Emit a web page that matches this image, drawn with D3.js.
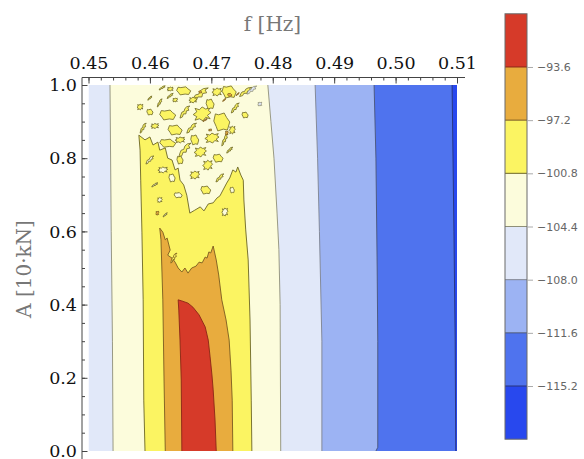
<!DOCTYPE html>
<html>
<head>
<meta charset="utf-8">
<script src="https://cdn.jsdelivr.net/npm/d3@7"></script>
<style>
  body { margin: 0; background: #fff; }
  svg { display: block; }
</style>
</head>
<body>
<svg id="chart" width="584" height="459"></svg>
<script>
// ---------------- data ----------------
const fTicks = [0.45, 0.46, 0.47, 0.48, 0.49, 0.50, 0.51];
const aTicks = [0, 0.2, 0.4, 0.6, 0.8, 1.0];
const levels = [-115.2, -111.6, -108.0, -104.4, -100.8, -97.2, -93.6];
const colorRange = [-118.8, -90.0];

// contour edges, [f, A] from bottom to top
const paleYellowLeftEdge = [[0.4540, -0.02], [0.4540, 0], [0.4539, 0.3], [0.4537, 0.6], [0.4535, 1], [0.4535, 1.02]];
const paleYellowRightEdge = [[0.4813, -0.02], [0.4813, 0], [0.4812, 0.4], [0.4810, 0.55], [0.4807, 0.65],
  [0.4802, 0.8], [0.4797, 0.9], [0.4792, 1], [0.4791, 1.02]];
const midBlueEdge = [[0.4880, -0.02], [0.4880, 0], [0.4880, 0.3], [0.4876, 0.6], [0.4873, 0.8], [0.4869, 1], [0.4869, 1.02]];
const blueEdge = [[0.4962, -0.02], [0.4971, 0.01], [0.4971, 0.3], [0.4970, 0.5], [0.4968, 0.8], [0.4965, 1], [0.4965, 1.02]];
const deepBlueEdge = [[0.5098, -0.02], [0.5098, 0], [0.5097, 0.3], [0.5095, 0.6], [0.5092, 1], [0.5092, 1.02]];

// closed contour regions, [f, A]
const yellowRegion = [
  [0.4592, -0.02], [0.4592, 0], [0.4590, 0.139], [0.4589, 0.413], [0.4587, 0.598], [0.4585, 0.740],
  [0.4584, 0.822], [0.4582, 0.863], [0.4592, 0.850], [0.4600, 0.858], [0.4605, 0.836], [0.4613, 0.844],
  [0.4616, 0.822], [0.4625, 0.828], [0.4629, 0.800], [0.4636, 0.795], [0.4641, 0.768], [0.4646, 0.773],
  [0.4649, 0.740], [0.4655, 0.727], [0.4660, 0.699], [0.4665, 0.650], [0.4673, 0.658], [0.4682, 0.667],
  [0.4688, 0.656], [0.4695, 0.675], [0.4703, 0.678], [0.4709, 0.691], [0.4714, 0.697], [0.4719, 0.713],
  [0.4725, 0.732], [0.4730, 0.746], [0.4735, 0.768], [0.4740, 0.762], [0.4743, 0.776], [0.4748, 0.754],
  [0.4752, 0.740], [0.4753, 0.686], [0.4756, 0.604], [0.4760, 0.522], [0.4763, 0.358], [0.4765, 0.139],
  [0.4766, 0], [0.4766, -0.02]
];
const orangeRegion = [
  [0.4625, -0.02], [0.4625, 0], [0.4623, 0.194], [0.4621, 0.413], [0.4618, 0.577], [0.4616, 0.609],
  [0.4621, 0.598], [0.4625, 0.577], [0.4628, 0.582], [0.4633, 0.549], [0.4629, 0.535], [0.4636, 0.527],
  [0.4641, 0.516], [0.4646, 0.500], [0.4652, 0.489], [0.4657, 0.500], [0.4662, 0.486], [0.4668, 0.500],
  [0.4675, 0.505], [0.4680, 0.516], [0.4685, 0.514], [0.4690, 0.530], [0.4693, 0.527], [0.4696, 0.544],
  [0.4699, 0.541], [0.4703, 0.560], [0.4708, 0.522], [0.4712, 0.481], [0.4717, 0.413], [0.4724, 0.358],
  [0.4729, 0.303], [0.4732, 0.221], [0.4734, 0.139], [0.4735, 0], [0.4735, -0.02]
];
const redRegion = [
  [0.4652, -0.02], [0.4652, 0], [0.4651, 0.194], [0.4649, 0.303], [0.4647, 0.385], [0.4646, 0.413],
  [0.4652, 0.410], [0.4662, 0.404], [0.4670, 0.393], [0.4680, 0.372], [0.4690, 0.339], [0.4695, 0.303],
  [0.4698, 0.257], [0.4701, 0.208], [0.4703, 0.167], [0.4706, 0.085], [0.4708, 0], [0.4708, -0.02]
];

// small islands: [f, A, width in f, height in A]
const yellowSpots = [
  [0.4620, 0.992, 0.0010, 0.011], [0.4633, 0.989, 0.0010, 0.011], [0.4655, 0.984, 0.0023, 0.022],
  [0.4682, 0.973, 0.0026, 0.038], [0.4709, 0.981, 0.0016, 0.022], [0.4729, 0.981, 0.0023, 0.033],
  [0.4756, 0.981, 0.0020, 0.025], [0.4584, 0.940, 0.0010, 0.016], [0.4629, 0.918, 0.0026, 0.027],
  [0.4657, 0.926, 0.0016, 0.033], [0.4685, 0.921, 0.0029, 0.038], [0.4717, 0.899, 0.0026, 0.049],
  [0.4589, 0.882, 0.0010, 0.027], [0.4608, 0.888, 0.0013, 0.014], [0.4641, 0.877, 0.0023, 0.027],
  [0.4668, 0.882, 0.0016, 0.027], [0.4701, 0.855, 0.0023, 0.027], [0.4629, 0.841, 0.0026, 0.022],
  [0.4657, 0.822, 0.0020, 0.038], [0.4682, 0.817, 0.0020, 0.027], [0.4711, 0.800, 0.0016, 0.022],
  [0.4730, 0.822, 0.0010, 0.016], [0.4673, 0.754, 0.0016, 0.022], [0.4691, 0.713, 0.0016, 0.022],
  [0.4600, 0.964, 0.0007, 0.011], [0.4641, 0.959, 0.0008, 0.011], [0.4600, 0.926, 0.0010, 0.016],
  [0.4616, 0.951, 0.0008, 0.022], [0.4670, 0.959, 0.0013, 0.016], [0.4698, 0.948, 0.0013, 0.027],
  [0.4739, 0.937, 0.0013, 0.027], [0.4649, 0.850, 0.0016, 0.016], [0.4673, 0.850, 0.0013, 0.027],
  [0.4722, 0.850, 0.0010, 0.033], [0.4694, 0.781, 0.0016, 0.027], [0.4649, 0.795, 0.0010, 0.022],
  [0.4714, 0.746, 0.0013, 0.022], [0.4734, 0.877, 0.0010, 0.022], [0.4755, 0.918, 0.0010, 0.016],
  [0.4633, 0.970, 0.0010, 0.014]
];
const paleYellowSpots = [
  [0.4600, 0.795, 0.0013, 0.022], [0.4621, 0.768, 0.0016, 0.016], [0.4636, 0.746, 0.0010, 0.022],
  [0.4608, 0.727, 0.0010, 0.011], [0.4616, 0.686, 0.0008, 0.014], [0.4646, 0.699, 0.0013, 0.014],
  [0.4625, 0.645, 0.0007, 0.011], [0.4722, 0.653, 0.0010, 0.022], [0.4734, 0.713, 0.0007, 0.016]
];
const yellowInOrange = [[0.4639, 0.527, 0.0010, 0.027]];
const orangeSpots = [
  [0.4690, 0.904, 0.0007, 0.008], [0.4725, 0.869, 0.0005, 0.011], [0.4730, 0.973, 0.0007, 0.008],
  [0.4721, 0.959, 0.0005, 0.008], [0.4698, 0.877, 0.0005, 0.006], [0.4682, 0.981, 0.0005, 0.006],
  [0.4743, 0.975, 0.0005, 0.008], [0.4612, 0.650, 0.0005, 0.011]
];
const paleBlueSpots = [[0.4766, 0.986, 0.0016, 0.022], [0.4779, 0.948, 0.0007, 0.011]];

// ---------------- style ----------------
const bandColors = ['#2848ee', '#4f73ee', '#9cb3f3', '#e1e8f9', '#fcfcdc', '#fbf462', '#e8ac3e', '#d63a29'];
const lineColors = ['#26337a', '#4a5577', '#7d8290', '#8f8f78', '#6b6524', '#7a5a20', '#8a2616'];
const serif = 'DejaVu Serif';

const svg = d3.select('#chart');

const x = d3.scaleLinear().domain([0.45, 0.51]).range([88.5, 457]);
const y = d3.scaleLinear().domain([0, 1]).range([451, 85]);
const cb = d3.scaleLinear().domain(colorRange).range([439.2, 13.8]);

const path = d3.line().x(d => x(d[0])).y(d => y(d[1])).curve(d3.curveLinearClosed);

// ragged outlines for the noisy islands (unit box, +y = up)
const shapes = [
  [[1, 1], [0.6, 0.7], [0.8, 0.3], [0.3, 0.2], [0.2, -0.3], [-0.3, -0.3], [-0.5, -0.8], [-1, -1],
   [-0.8, -0.4], [-0.6, 0], [-0.2, 0.1], [0, 0.6], [0.4, 0.9]],
  [[1, 0.2], [0.7, 0.5], [0.9, 0.9], [0.4, 0.7], [0, 1], [-0.3, 0.6], [-0.8, 0.8], [-0.6, 0.3],
   [-1, -0.1], [-0.6, -0.4], [-0.8, -0.9], [-0.3, -0.7], [0.1, -1], [0.4, -0.5], [0.9, -0.7], [0.6, -0.2]],
  [[1, 0], [0.6, 0.5], [0.3, 1], [-0.4, 0.8], [-0.8, 0.9], [-1, 0.1], [-0.7, -0.5], [-0.5, -1],
   [0.2, -0.8], [0.7, -0.9]]
];
const spotPath = (d, i) => path(shapes[i % 3].map(p => [d[0] + p[0] * d[2] / 2, d[1] + p[1] * d[3] / 2]));

svg.append('clipPath').attr('id', 'plotClip')
  .append('rect').attr('x', 88.5).attr('y', 85).attr('width', 368.5).attr('height', 366);

const plot = svg.append('g').attr('clip-path', 'url(#plotClip)');

plot.append('rect')
  .attr('x', 88.5).attr('y', 85).attr('width', 368.5).attr('height', 366)
  .attr('fill', bandColors[3]);

function region(pts, fill, stroke) {
  plot.append('path').attr('d', path(pts))
    .attr('fill', fill).attr('stroke', stroke).attr('stroke-width', 0.9).attr('stroke-linejoin', 'round');
}
function spots(list, fill, stroke) {
  plot.append('g').selectAll('path').data(list).join('path')
    .attr('d', spotPath)
    .attr('fill', fill).attr('stroke', stroke).attr('stroke-width', 0.8).attr('stroke-linejoin', 'round');
}
const toRight = edge => edge.concat([[0.52, 1.02], [0.52, -0.02]]);

region(toRight(midBlueEdge), bandColors[2], lineColors[2]);
region(toRight(blueEdge), bandColors[1], lineColors[1]);
region(toRight(deepBlueEdge), bandColors[0], lineColors[0]);
region(paleYellowLeftEdge.concat(paleYellowRightEdge.slice().reverse()), bandColors[4], lineColors[3]);
region(yellowRegion, bandColors[5], lineColors[4]);
spots(paleYellowSpots, bandColors[4], lineColors[4]);
spots(yellowSpots, bandColors[5], lineColors[4]);
region(orangeRegion, bandColors[6], lineColors[5]);
spots(yellowInOrange, bandColors[5], lineColors[5]);
region(redRegion, bandColors[7], lineColors[6]);
spots(orangeSpots, bandColors[6], lineColors[5]);
spots(paleBlueSpots, bandColors[3], lineColors[3]);

// ---------------- axes ----------------
const axisColor = '#444';

const topAxis = svg.append('g').attr('transform', 'translate(0,77.5)');
topAxis.append('g')
  .call(d3.axisTop(x).ticks(30).tickSize(-3).tickFormat(''))
  .call(g => g.select('.domain').remove());
topAxis.append('g')
  .call(d3.axisTop(x).tickValues(fTicks).tickFormat(d3.format('.2f')).tickSize(-6).tickPadding(9))
  .call(g => g.select('.domain').remove())
  .selectAll('text').attr('font-family', serif).attr('font-size', 17.5).attr('fill', '#111');
topAxis.append('line').attr('x1', 82).attr('x2', 465).attr('y1', 0).attr('y2', 0);

const leftAxis = svg.append('g').attr('transform', 'translate(82,0)');
leftAxis.append('g')
  .call(d3.axisLeft(y).ticks(20).tickSize(-3).tickFormat(''))
  .call(g => g.select('.domain').remove());
leftAxis.append('g')
  .call(d3.axisLeft(y).tickValues(aTicks).tickFormat(d3.format('.1f')).tickSize(-5.5).tickPadding(5))
  .call(g => g.select('.domain').remove())
  .selectAll('text').attr('font-family', serif).attr('font-size', 17.5).attr('fill', '#111');
leftAxis.append('line').attr('x1', 0).attr('x2', 0).attr('y1', 77.5).attr('y2', 459);

svg.selectAll('line').attr('stroke', axisColor).attr('stroke-width', 1);

svg.append('text')
  .attr('x', 272.5).attr('y', 31)
  .attr('text-anchor', 'middle')
  .attr('font-family', serif).attr('font-size', 20).attr('fill', '#777')
  .text('f [Hz]');

svg.append('text')
  .attr('transform', 'translate(31,269) rotate(-90)')
  .attr('text-anchor', 'middle')
  .attr('font-family', serif).attr('font-size', 20).attr('fill', '#777')
  .text('A [10·kN]');

// ---------------- colour bar ----------------
const bounds = [colorRange[0], ...levels, colorRange[1]];
const bar = svg.append('g');
bar.selectAll('rect').data(bandColors).join('rect')
  .attr('x', 505).attr('width', 22)
  .attr('y', (d, i) => cb(bounds[i + 1]))
  .attr('height', (d, i) => cb(bounds[i]) - cb(bounds[i + 1]))
  .attr('fill', d => d);
bar.selectAll('line.sep').data(levels).join('line')
  .attr('class', 'sep')
  .attr('x1', 505).attr('x2', 527)
  .attr('y1', d => cb(d)).attr('y2', d => cb(d))
  .attr('stroke', (d, i) => lineColors[i]).attr('stroke-width', 1);
bar.append('rect')
  .attr('x', 505).attr('y', cb(colorRange[1])).attr('width', 22)
  .attr('height', cb(colorRange[0]) - cb(colorRange[1]))
  .attr('fill', 'none').attr('stroke', '#6a6a6a').attr('stroke-width', 1);

const barAxis = svg.append('g').attr('transform', 'translate(527,0)')
  .call(d3.axisRight(cb).tickValues(levels).tickFormat(d3.format('.1f')).tickSize(6).tickPadding(4))
  .call(g => g.select('.domain').remove());
barAxis.selectAll('line').attr('stroke', '#aaa');
barAxis.selectAll('text').attr('font-family', 'DejaVu Sans').attr('font-size', 11).attr('fill', '#666');
</script>
</body>
</html>
